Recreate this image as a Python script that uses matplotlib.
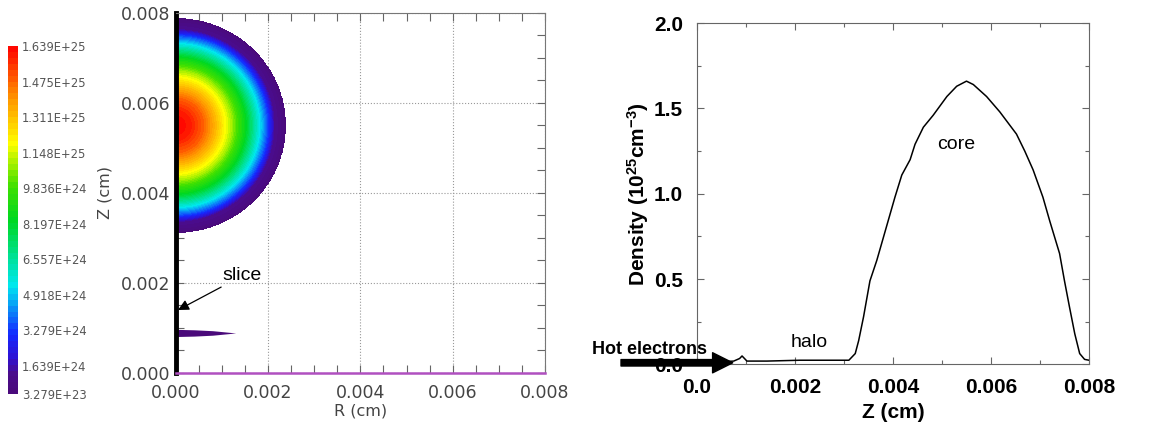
import numpy as np
import matplotlib
matplotlib.use('Agg')
import matplotlib.pyplot as plt
from matplotlib.colors import LinearSegmentedColormap

plt.rcParams['font.family'] = ['Liberation Sans', 'DejaVu Sans']
plt.rcParams['mathtext.fontset'] = 'custom'
plt.rcParams['mathtext.bf'] = 'Liberation Sans:bold'
plt.rcParams['mathtext.rm'] = 'Liberation Sans'
plt.rcParams['mathtext.default'] = 'bf'

# colour bar labels (density, cm^-3)
cbar_ticks = [1.639e25, 1.475e25, 1.311e25, 1.148e25, 9.836e24, 8.197e24,
              6.557e24, 4.918e24, 3.279e24, 1.639e24, 3.279e23]
cbar_labels = ['1.639E+25', '1.475E+25', '1.311E+25', '1.148E+25', '9.836E+24', '8.197E+24',
               '6.557E+24', '4.918E+24', '3.279E+24', '1.639E+24', '3.279E+23']

# core: density vs distance from the core centre
core_center_z = 0.0055
prof_r = [0.0, 0.0003, 0.0006, 0.0009, 0.0012, 0.0015, 0.0018, 0.0020, 0.00213, 0.0023, 0.00238]
prof_n = [1.639e25, 1.60e25, 1.48e25, 1.30e25, 1.10e25, 8.5e24, 5.5e24, 3.3e24, 1.4e24, 8.0e23, 3.4e23]

# thin low density sliver near the axis
sliver_z = 0.00089
sliver_r = [0.0, 0.0004, 0.0008, 0.0010, 0.0013]
sliver_half = [0.00008, 0.00007, 0.00005, 0.00003, 0.0]

# density along the axis (right panel), units 1e25 cm^-3
z_cut = [0.0005, 0.00075, 0.00087, 0.00092, 0.00102, 0.00143, 0.0021, 0.0028, 0.0031, 0.00323,
         0.0033, 0.0034, 0.00353, 0.00367, 0.00387, 0.00404, 0.00418, 0.00435, 0.00445, 0.00462,
         0.00482, 0.0051, 0.0053, 0.0055, 0.00564, 0.00591, 0.00618, 0.00652, 0.00669, 0.00686,
         0.00706, 0.0072, 0.0074, 0.0075, 0.0076, 0.00771, 0.00781, 0.00791, 0.008]
n_cut = [0.016, 0.02, 0.035, 0.05, 0.02, 0.02, 0.025, 0.025, 0.025, 0.064,
         0.14, 0.28, 0.49, 0.61, 0.81, 0.98, 1.11, 1.2, 1.29, 1.39,
         1.46, 1.57, 1.63, 1.66, 1.64, 1.57, 1.48, 1.35, 1.25, 1.14,
         0.98, 0.84, 0.65, 0.49, 0.34, 0.18, 0.064, 0.03, 0.025]

cmap = LinearSegmentedColormap.from_list('visit', [
    (0.0, '#4a0a7a'), (0.06, '#4a0c8c'), (0.1, '#3010d0'), (0.17, '#1428ff'), (0.31, '#00e8f0'),
    (0.5, '#00d820'), (0.6, '#40e000'), (0.72, '#ffff00'), (0.86, '#ff8c00'), (1.0, '#ff0000')])

fig = plt.figure(figsize=(11.52, 4.36), dpi=100)

# ---------------- left: density map ----------------
ax1 = fig.add_axes([0.1525, 0.1445, 0.3206, 0.8257])
vmin, vmax = cbar_ticks[-1], cbar_ticks[0]
R, Z = np.meshgrid(np.linspace(0, 0.0026, 300), np.linspace(0.0028, 0.008, 600))
d = np.sqrt(R**2 + (Z - core_center_z)**2)
n = np.interp(d, prof_r, prof_n, right=0.0)
n = np.ma.masked_less(n, vmin)
cs = ax1.contourf(R, Z, n, levels=np.linspace(vmin, vmax, 60), cmap=cmap, zorder=2)
ax1.fill_between(sliver_r, sliver_z - np.array(sliver_half), sliver_z + np.array(sliver_half),
                 color=cmap(0.0), lw=0, zorder=2)

ax1.set_xlim(0, 0.008)
ax1.set_ylim(0, 0.008)
ax1.set_xticks([0, 0.002, 0.004, 0.006, 0.008])
ax1.set_yticks([0, 0.002, 0.004, 0.006, 0.008])
ax1.set_xticklabels(['0.000', '0.002', '0.004', '0.006', '0.008'])
ax1.set_yticklabels(['0.000', '0.002', '0.004', '0.006', '0.008'])
ax1.set_xticks(np.arange(0, 0.0081, 0.0005), minor=True)
ax1.set_yticks(np.arange(0, 0.0081, 0.0005), minor=True)
ax1.tick_params(which='both', direction='in', top=True, right=True, colors='#666666',
                labelcolor='#444444', labelsize=12.5, length=6, width=0.8)
ax1.tick_params(axis='x', which='major', pad=8)
ax1.tick_params(axis='y', which='major', pad=4)
for lab in ax1.get_xticklabels() + ax1.get_yticklabels():
    lab.set_family('DejaVu Sans')
ax1.grid(True, which='major', ls=':', color='#999999', lw=0.8, zorder=1)
for s in ['top', 'right']:
    ax1.spines[s].set_color('#777777')
ax1.spines['left'].set_color('black')
ax1.spines['left'].set_linewidth(3.5)
ax1.spines['bottom'].set_color('#b050c0')
ax1.spines['bottom'].set_linewidth(1.8)
ax1.set_xlabel('R (cm)', fontsize=11.5, color='#444444', family='DejaVu Sans', labelpad=1)
ax1.set_ylabel('Z (cm)', fontsize=11.5, color='#444444', family='DejaVu Sans', labelpad=6)
ax1.annotate('slice', xy=(0.00005, 0.0014), xytext=(0.00102, 0.00216), fontsize=14,
             ha='left', va='center', color='black',
             arrowprops=dict(arrowstyle='-|>', color='black', lw=0.9,
                             mutation_scale=16, shrinkA=0, shrinkB=0))

# colour bar
cax = fig.add_axes([0.0069, 0.096, 0.0087, 0.798])
cb = fig.colorbar(cs, cax=cax, ticks=cbar_ticks)
cb.ax.set_yticklabels(cbar_labels)
cb.ax.tick_params(length=0, labelsize=8.3, labelcolor='#555555', pad=3)
for lab in cb.ax.get_yticklabels():
    lab.set_family('DejaVu Sans')
cb.outline.set_visible(False)

# ---------------- right: axial density profile ----------------
ax2 = fig.add_axes([0.605, 0.164, 0.3403, 0.783])
ax2.plot(z_cut, n_cut, color='black', lw=1.1)
ax2.set_xlim(0, 0.008)
ax2.set_ylim(0, 2.0)
ax2.set_xticks([0, 0.002, 0.004, 0.006, 0.008])
ax2.set_xticklabels(['0.0', '0.002', '0.004', '0.006', '0.008'])
ax2.set_yticks([0, 0.5, 1.0, 1.5, 2.0])
ax2.set_yticklabels(['0.0', '0.5', '1.0', '1.5', '2.0'])
ax2.set_xticks(np.arange(0, 0.0081, 0.001), minor=True)
ax2.set_yticks(np.arange(0, 2.01, 0.25), minor=True)
ax2.tick_params(which='both', direction='in', top=True, right=True, colors='#666666',
                labelcolor='black', labelsize=15, width=0.8)
ax2.tick_params(which='major', length=5)
ax2.tick_params(which='minor', length=3)
ax2.tick_params(axis='x', which='major', pad=10)
ax2.tick_params(axis='y', which='major', pad=10)
for lab in ax2.get_xticklabels() + ax2.get_yticklabels():
    lab.set_fontweight('bold')
for s in ax2.spines.values():
    s.set_color('#666666')
ax2.set_xlabel('Z (cm)', fontsize=15, fontweight='bold', labelpad=4)
ax2.set_ylabel('Density (10$^{25}$cm$^{-3}$)', fontsize=15, fontweight='bold', labelpad=2)
ax2.text(0.0023, 0.13, 'halo', fontsize=14, ha='center', va='center')
ax2.text(0.0053, 1.29, 'core', fontsize=14, ha='center', va='center')
ax2.text(-0.00214, 0.09, 'Hot electrons', fontsize=13, fontweight='bold', ha='left',
         va='center', clip_on=False)
ax2.annotate('', xy=(0.00073, 0.01), xytext=(-0.00155, 0.01), annotation_clip=False,
             arrowprops=dict(arrowstyle='simple,head_length=1.0,head_width=1.0,tail_width=0.32',
                             color='black', mutation_scale=14.5, shrinkA=0, shrinkB=0),
             zorder=5)

fig.savefig('out.png', dpi=100)
